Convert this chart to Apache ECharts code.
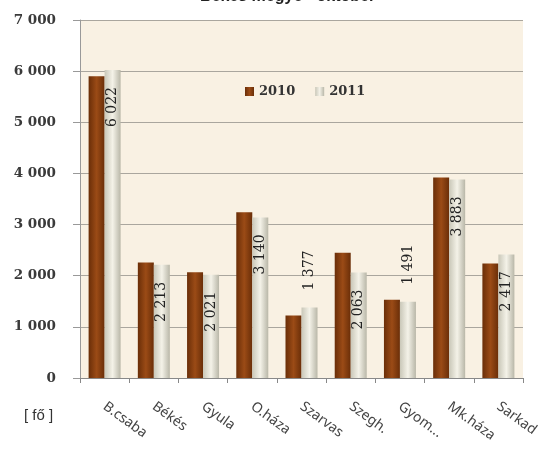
<!DOCTYPE html>
<html><head><meta charset="utf-8">
<script src="https://cdn.jsdelivr.net/npm/echarts@6/dist/echarts.min.js"></script>
<style>html,body{margin:0;padding:0;background:#fff}#c{width:544px;height:449px}</style>
</head><body><div id="c"></div>
<script>
const categories = ['B.csaba','Békés','Gyula','O.háza','Szarvas','Szegh.','Gyom...','Mk.háza','Sarkad'];
const values2010 = [5900, 2260, 2070, 3240, 1220, 2450, 1530, 3920, 2240];
const values2011 = [6022, 2213, 2021, 3140, 1377, 2063, 1491, 3883, 2417];
const outsideLabels = [false, false, false, false, true, false, true, false, false];
const yTicks = [0, 1000, 2000, 3000, 4000, 5000, 6000, 7000];

function fmt(v){ return String(v).replace(/\B(?=(\d{3})+(?!\d))/g, ' '); }

const chart = echarts.init(document.getElementById('c'));
const insideLbl = {show:true, position:'insideTop', rotate:90, align:'right', verticalAlign:'middle', distance:17,
  fontFamily:'DejaVu Serif', fontSize:14, color:'#222', formatter:p=>fmt(p.value)};
const outsideLbl = {show:true, position:'top', rotate:90, align:'left', verticalAlign:'middle', distance:17,
  fontFamily:'DejaVu Serif', fontSize:14, color:'#222', formatter:p=>fmt(p.value)};

chart.setOption({
  animation:false,
  backgroundColor:'#fff',
  graphic:[
    {type:'text', left:200, top:-11, style:{text:'Békés megye - október', font:'bold 16px "Liberation Sans"', fill:'#222'}},
    {type:'text', left:24, top:408, style:{text:'[ fő ]', font:'15px "Liberation Sans"', fill:'#333'}}
  ],
  legend:{
    left:240, top:80, itemWidth:9, itemHeight:9, itemGap:20,
    textStyle:{fontFamily:'DejaVu Serif', fontWeight:'bold', fontSize:13, color:'#333'},
    data:[{name:'2010', icon:'rect'},{name:'2011', icon:'rect'}]
  },
  grid:{left:80, right:21, top:20, bottom:71, show:true, backgroundColor:'#f9f1e3', borderWidth:0},
  xAxis:{
    type:'category', data:categories,
    axisLine:{lineStyle:{color:'#888'}},
    axisTick:{show:true, length:5, lineStyle:{color:'#888'}},
    axisLabel:{rotate:-36, margin:27, fontFamily:'Noto Sans', fontSize:14, color:'#444'}
  },
  yAxis:{
    type:'value', min:0, max:7000, interval:1000,
    axisLine:{show:true, lineStyle:{color:'#999'}},
    axisTick:{show:true, length:7, lineStyle:{color:'#999'}},
    splitLine:{lineStyle:{color:'#aaa69e'}},
    axisLabel:{margin:24, fontFamily:'DejaVu Serif', fontWeight:'bold', fontSize:13.5, color:'#3a3a3a',
      formatter:v=>yTicks.includes(v)?fmt(v):''}
  },
  series:[
    {name:'2010', type:'bar', data:values2010, barWidth:16, barGap:'0%',
     itemStyle:{color:new echarts.graphic.LinearGradient(0,0,1,0,[
       {offset:0,color:'#6a2e08'},{offset:0.5,color:'#9b4b16'},{offset:1,color:'#6a2e08'}])}},
    {name:'2011', type:'bar', data:values2011.map((v,i)=>({value:v, label: outsideLabels[i]?outsideLbl:insideLbl})), barWidth:16,
     itemStyle:{color:new echarts.graphic.LinearGradient(0,0,1,0,[
       {offset:0,color:'#c9c7b8'},{offset:0.5,color:'#f4f2e8'},{offset:1,color:'#b9b7a8'}])}}
  ]
});
</script></body></html>
